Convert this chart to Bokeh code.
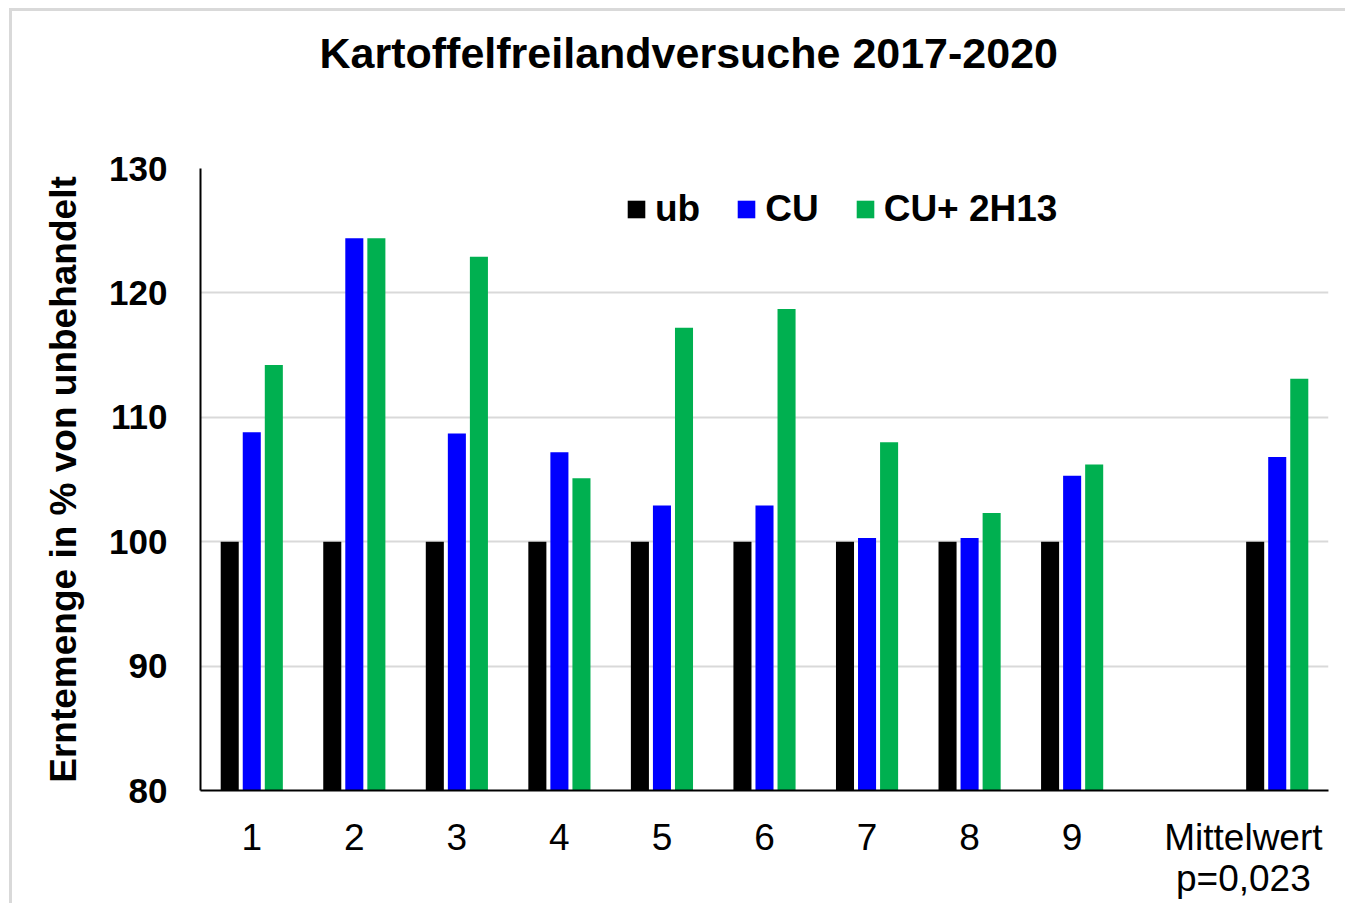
from bokeh.plotting import figure
from bokeh.models import Range1d, FixedTicker, Legend, LegendItem, ColumnDataSource, Title
from bokeh.embed import file_html
from bokeh.resources import INLINE

# ---- data ----
categories = ["1", "2", "3", "4", "5", "6", "7", "8", "9", "Mittelwert"]
cat_slots = [0, 1, 2, 3, 4, 5, 6, 7, 8, 10]   # slot 9 is an empty gap
ub = [100, 100, 100, 100, 100, 100, 100, 100, 100, 100]
cu = [108.8, 124.4, 108.7, 107.2, 102.9, 102.9, 100.3, 100.3, 105.3, 106.8]
cu_2h13 = [114.2, 124.4, 122.9, 105.1, 117.2, 118.7, 108.0, 102.3, 106.2, 113.1]
series_names = ["ub", "CU", "CU+ 2H13"]
series_colors = ["#000000", "#0000FF", "#00B050"]
y_ticks = [80, 90, 100, 110, 120, 130]
mean_note = "p=0,023"
title_text = "Kartoffelfreilandversuche 2017-2020"

FONT = "Liberation Sans"
n_slots = 11
centers = [s + 0.5 for s in cat_slots]

p = figure(width=1336, height=895, output_backend="svg", toolbar_location=None,
           x_range=Range1d(0, n_slots), y_range=Range1d(y_ticks[0], y_ticks[-1]),
           min_border_left=188, min_border_right=20, min_border_top=157, min_border_bottom=116)
p.background_fill_color = "white"
p.border_fill_color = "white"
p.outline_line_color = None

bar_w = 0.176
offsets = [-0.215, 0.0, 0.215]
renderers = []
for vals, off, col in zip([ub, cu, cu_2h13], offsets, series_colors):
    src = ColumnDataSource(dict(x=[c + off for c in centers], top=vals))
    r = p.vbar(x="x", top="top", bottom=y_ticks[0], width=bar_w, source=src,
               fill_color=col, line_color=None)
    renderers.append(r)

# axes
p.xgrid.grid_line_color = None
p.ygrid.grid_line_color = "#d9d9d9"
p.ygrid.grid_line_width = 2
p.yaxis.ticker = FixedTicker(ticks=y_ticks)
p.yaxis.axis_line_color = "black"
p.yaxis.axis_line_width = 2
p.yaxis.major_tick_line_color = None
p.yaxis.minor_tick_line_color = None
p.yaxis.major_label_text_font = FONT
p.yaxis.major_label_text_font_style = "bold"
p.yaxis.major_label_text_font_size = "35px"
p.yaxis.major_label_text_color = "black"
p.yaxis.major_label_standoff = 27
p.yaxis.axis_label = "Erntemenge in % von unbehandelt"
p.yaxis.axis_label_text_font = FONT
p.yaxis.axis_label_text_font_style = "bold"
p.yaxis.axis_label_text_font_size = "37px"
p.yaxis.axis_label_text_color = "black"
p.yaxis.axis_label_standoff = 22

# the "Mittelwert" label sits left of its group (clipped at the chart edge in the original)
mean_tick = centers[-1] - 0.33
tick_pos = centers[:-1] + [mean_tick]
tick_text = categories[:-1] + [categories[-1] + "\n" + mean_note]
p.xaxis.ticker = FixedTicker(ticks=tick_pos)
p.xaxis.major_label_overrides = {t: lab for t, lab in zip(tick_pos, tick_text)}
p.xaxis.axis_line_color = "black"
p.xaxis.axis_line_width = 2
p.xaxis.major_tick_line_color = None
p.xaxis.minor_tick_line_color = None
p.xaxis.major_label_text_font = FONT
p.xaxis.major_label_text_font_size = "37px"
p.xaxis.major_label_text_color = "black"
p.xaxis.major_label_text_line_height = 1.0
p.xaxis.major_label_standoff = 20

# real title is the (outermost) default title; a blank title added below it acts as a spacer
p.title.text = title_text
p.title.align = "left"
p.title.offset = 119
p.title.text_font = FONT
p.title.text_font_style = "bold"
p.title.text_font_size = "43px"
p.title.text_color = "black"
p.title.standoff = 0
p.add_layout(Title(text=" ", text_font_size="2px", standoff=88), "above")

legend = Legend(items=[LegendItem(label=n, renderers=[r]) for n, r in zip(series_names, renderers)],
                orientation="horizontal", location=(425, 560),
                label_text_font=FONT, label_text_font_style="bold",
                label_text_font_size="37px", label_text_color="black",
                glyph_width=22, glyph_height=22, label_standoff=8, spacing=35,
                border_line_color=None, background_fill_alpha=0, padding=0, margin=0)
p.add_layout(legend)

p.styles = {"border-left": "3px solid #d9d9d9", "border-top": "3px solid #d9d9d9",
            "margin-left": "9px", "margin-top": "8px"}

open("out.html", "w").write(file_html(p, INLINE))
